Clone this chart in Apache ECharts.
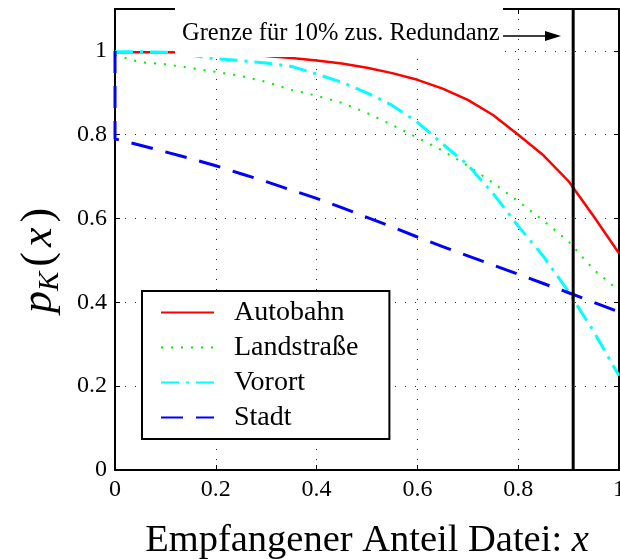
<!DOCTYPE html>
<html>
<head>
<meta charset="utf-8">
<script src="https://cdn.jsdelivr.net/npm/echarts@6/dist/echarts.min.js"></script>
<style>html,body{margin:0;padding:0;background:#fff;overflow:hidden;width:620px;height:559px}#c{width:620px;height:559px}</style>
</head>
<body>
<div id="c"></div>
<script>
// ---- data ----
const xs        = [0, 0.05, 0.1, 0.15, 0.2, 0.25, 0.3, 0.35, 0.4, 0.45, 0.5, 0.55, 0.6, 0.65, 0.7, 0.75, 0.8, 0.85, 0.9, 0.95, 1.0];
const autobahn  = [0.997, 0.997, 0.997, 0.996, 0.995, 0.992, 0.988, 0.983, 0.977, 0.970, 0.960, 0.947, 0.931, 0.910, 0.883, 0.847, 0.800, 0.751, 0.689, 0.605, 0.517];
const landstr   = [0.990, 0.973, 0.968, 0.959, 0.950, 0.940, 0.926, 0.907, 0.893, 0.876, 0.852, 0.823, 0.793, 0.762, 0.726, 0.685, 0.641, 0.595, 0.545, 0.478, 0.428];
const vorort    = [0.998, 0.998, 0.997, 0.990, 0.981, 0.977, 0.971, 0.963, 0.945, 0.925, 0.900, 0.870, 0.830, 0.778, 0.728, 0.660, 0.582, 0.510, 0.425, 0.330, 0.225];
const stadt     = [0.790, 0.775, 0.759, 0.743, 0.726, 0.707, 0.688, 0.668, 0.648, 0.626, 0.603, 0.580, 0.556, 0.533, 0.511, 0.489, 0.467, 0.445, 0.423, 0.400, 0.377];
const stadtStart = [0, 1.0];
const seriesNames = ['Autobahn', 'Landstraße', 'Vorort', 'Stadt'];
const grenzeX = 1 / 1.1;
const xTicks = { min: 0, max: 1, interval: 0.2 };
const yTicks = { min: 0, max: 1.1, interval: 0.2 };
const annotationText = 'Grenze für 10% zus. Redundanz';
const xTitle = 'Empfangener Anteil Datei: ';

const pairs = (ys) => xs.map((x, i) => [x, ys[i]]);
const FONT = 'Liberation Serif';

const chart = echarts.init(document.getElementById('c'), null, { renderer: 'canvas', width: 620, height: 559 });

const axisLine = { show: true, onZero: false, lineStyle: { color: '#000', width: 2 } };
const tickIn = { show: true, inside: true, length: 5, lineStyle: { color: '#000', width: 1 } };
const split = { show: true, lineStyle: { color: '#222', width: 1, type: [1, 9] } };
const fmt = (v) => (v > 1.05 ? '' : String(+v.toFixed(1)));

function mk(name, ys, color, width, type, extra) {
  const d = pairs(ys);
  return {
    name, type: 'line', data: extra ? [extra].concat(d) : d,
    symbol: 'none', showSymbol: false, smooth: false,
    lineStyle: { color, width, type }, itemStyle: { color },
    z: 3
  };
}

chart.setOption({
  animation: false,
  grid: { left: 115, right: 1, top: 9, bottom: 89, containLabel: false, outerBoundsMode: 'none' },
  xAxis: [
    Object.assign({ type: 'value', position: 'bottom', axisLine, axisTick: tickIn,
      axisLabel: { fontFamily: FONT, fontSize: 24, color: '#000', margin: 8, formatter: fmt },
      splitLine: split }, xTicks),
    Object.assign({ type: 'value', position: 'top', axisLine, axisTick: tickIn,
      axisLabel: { show: false }, splitLine: { show: false } }, xTicks)
  ],
  yAxis: [
    Object.assign({ type: 'value', position: 'left', axisLine, axisTick: tickIn,
      axisLabel: { fontFamily: FONT, fontSize: 24, color: '#000', margin: 8, formatter: fmt },
      splitLine: split }, yTicks),
    Object.assign({ type: 'value', position: 'right', axisLine, axisTick: tickIn,
      axisLabel: { show: false }, splitLine: { show: false } }, yTicks)
  ],
  legend: {
    data: seriesNames, orient: 'vertical', left: 142, top: 291,
    padding: [4, 31, 4, 18], itemWidth: 53, itemHeight: 14, itemGap: 0,
    backgroundColor: '#fff', borderColor: '#000', borderWidth: 2, borderRadius: 0,
    selectedMode: false,
    itemStyle: { opacity: 0, borderWidth: 0 },
    textStyle: { fontFamily: FONT, fontSize: 28, color: '#000', lineHeight: 35, padding: [0, 0, 0, 15] },
    z: 20
  },
  series: [
    mk(seriesNames[0], autobahn, '#ff0000', 2.5, 'solid'),
    mk(seriesNames[1], landstr, '#00ee00', 2, [2, 8]),
    mk(seriesNames[2], vorort, '#00ffff', 3, [18, 7, 3, 7]),
    mk(seriesNames[3], stadt, '#0000ff', 3, [22, 13], stadtStart),
    { name: 'grenze', type: 'line', data: [[grenzeX, yTicks.min], [grenzeX, yTicks.max]],
      symbol: 'none', lineStyle: { color: '#000', width: 3 }, z: 4 }
  ],
  graphic: [
    { type: 'rect', z: 50, shape: { x: 175, y: 0, width: 328, height: 57 }, style: { fill: '#fff' } },
    { type: 'text', z: 51, x: 182, y: 34, style: { text: annotationText, fontFamily: FONT, fontSize: 24.5, fill: '#000', align: 'left', verticalAlign: 'middle' } },
    { type: 'line', z: 51, shape: { x1: 503, y1: 36, x2: 550, y2: 36 }, style: { stroke: '#000', lineWidth: 1.5 } },
    { type: 'polygon', z: 51, shape: { points: [[545, 31], [561, 36], [545, 41]] }, style: { fill: '#000' } },
    { type: 'text', z: 51, x: 367, y: 541, style: {
        text: '{n|' + xTitle + '}{i|x}',
        align: 'center', verticalAlign: 'middle',
        rich: { n: { fontFamily: FONT, fontSize: 38.5, fill: '#000' }, i: { fontFamily: FONT, fontSize: 38.5, fontStyle: 'italic', fill: '#000' } } } },
    { type: 'text', z: 51, x: 39, y: 258, rotation: Math.PI / 2, style: {
        text: '{i|p}{s|K}{n|(}{i|x}{n|)}',
        align: 'center', verticalAlign: 'middle',
        rich: {
          i: { fontFamily: FONT, fontSize: 44, fontStyle: 'italic', fill: '#000', lineHeight: 52 },
          s: { fontFamily: FONT, fontSize: 29, fontStyle: 'italic', fill: '#000', lineHeight: 29, verticalAlign: 'bottom' },
          n: { fontFamily: FONT, fontSize: 44, fill: '#000', lineHeight: 52, padding: [0, 5, 0, 5] }
        } } }
  ]
});
</script>
</body>
</html>
